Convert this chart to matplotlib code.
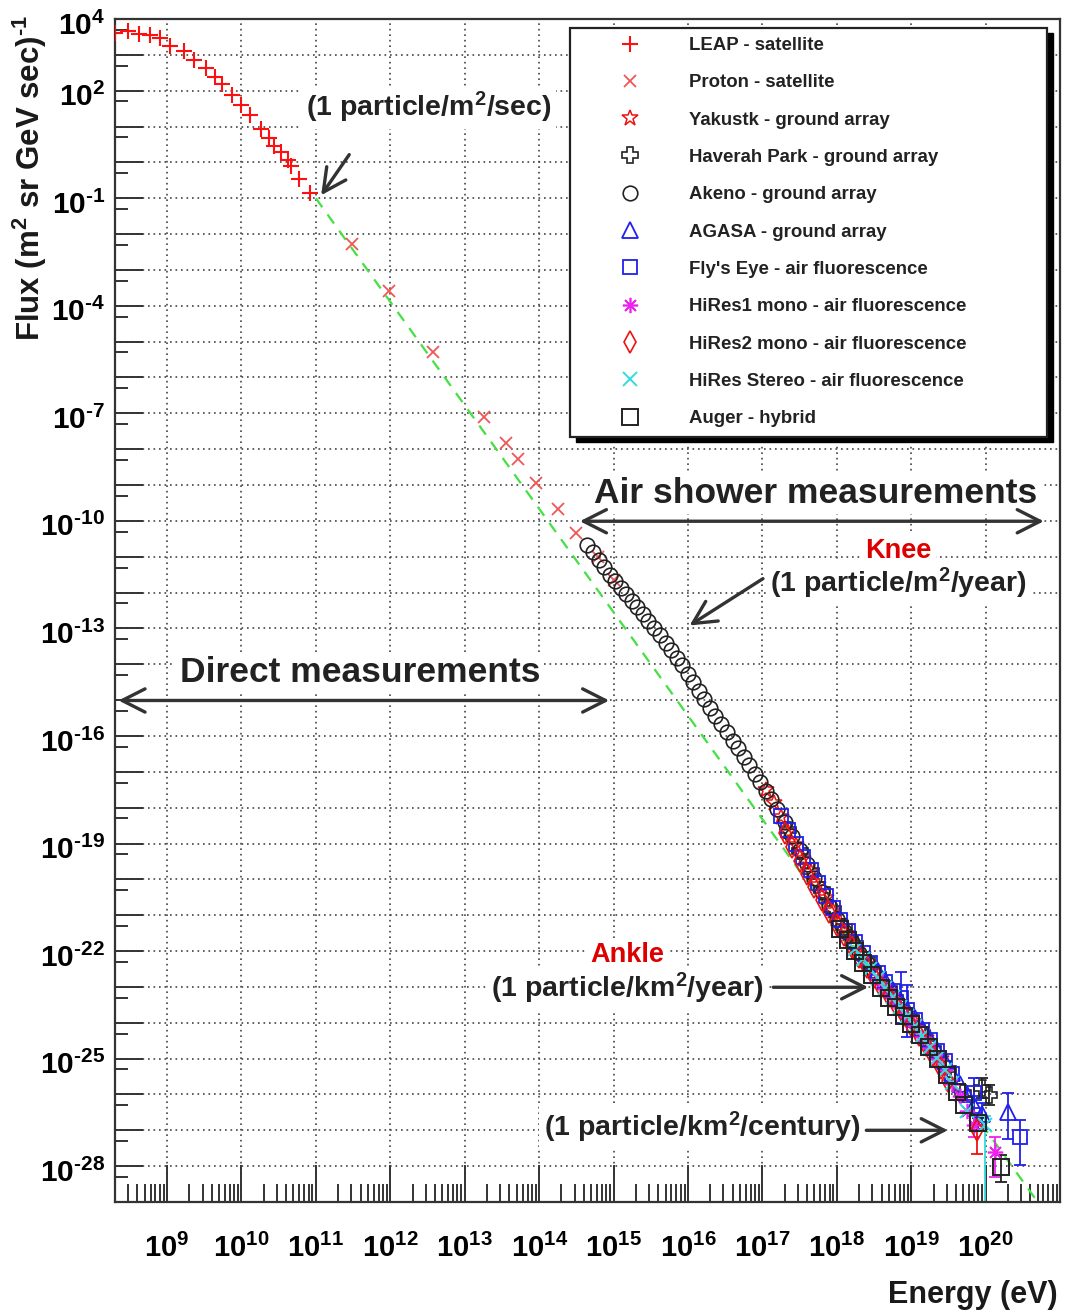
import numpy as np
import matplotlib
matplotlib.use('Agg')
import matplotlib.pyplot as plt
from matplotlib.patches import Rectangle
from matplotlib.transforms import ScaledTranslation
from matplotlib.ticker import FixedLocator, FuncFormatter, NullFormatter

plt.rcParams['font.family'] = ['Liberation Sans', 'DejaVu Sans']
plt.rcParams['font.weight'] = 'bold'
plt.rcParams['mathtext.fontset'] = 'custom'
plt.rcParams['mathtext.rm'] = 'Liberation Sans:bold'
plt.rcParams['mathtext.bf'] = 'Liberation Sans:bold'
plt.rcParams['mathtext.it'] = 'Liberation Sans:bold:italic'
plt.rcParams['mathtext.sf'] = 'Liberation Sans:bold'
plt.rcParams['mathtext.default'] = 'rm'

# ---------------- data (log10 E [eV], log10 flux) ----------------
leap_logE = [8.30, 8.47, 8.62, 8.77, 8.91, 9.04, 9.23, 9.36, 9.53, 9.64, 9.74,
             9.88, 9.99, 10.11, 10.26, 10.37, 10.44, 10.53, 10.63, 10.66, 10.77, 10.92]
leap_logF = [3.62, 3.66, 3.59, 3.54, 3.47, 3.26, 3.10, 2.86, 2.63, 2.38, 2.19,
             1.87, 1.59, 1.33, 0.94, 0.67, 0.47, 0.28, 0.08, -0.11, -0.46, -0.84]

proton_logE = [11.48, 11.98, 12.58, 13.26, 13.55, 13.71, 13.96, 14.26, 14.49, 14.79, 15.00]
proton_logF = [-2.28, -3.60, -5.30, -7.10, -7.82, -8.28, -8.95, -9.66, -10.33, -11.01, -11.65]

yak_logE = [17.05, 17.15, 17.25, 17.35, 17.45, 17.55, 17.65, 17.75, 17.85, 17.95, 18.05, 18.15,
            18.25, 18.35, 18.45, 18.55, 18.65, 18.75, 18.85, 18.95, 19.05, 19.20, 19.40]
yak_logF = [-17.50, -17.88, -18.27, -18.67, -19.04, -19.43, -19.80, -20.16, -20.52, -20.87, -21.19, -21.52,
            -21.82, -22.12, -22.40, -22.67, -22.95, -23.19, -23.46, -23.71, -23.99, -24.42, -25.02]

hp_logE = [17.35, 17.50, 17.65, 17.80, 17.95, 18.10, 18.25, 18.40, 18.55, 18.70, 18.85, 19.00,
           19.15, 19.30, 19.50, 19.70, 19.95, 20.05]
hp_logF = [-18.62, -19.20, -19.76, -20.30, -20.82, -21.32, -21.80, -22.24, -22.66, -23.06, -23.45, -23.86,
           -24.28, -24.73, -25.28, -25.95, -25.82, -26.02]
hp_eb_logE = [19.95, 20.05]
hp_eb_lo = [-26.10, -26.30]
hp_eb_hi = [-25.55, -25.75]

akeno_logE = [14.65, 14.72, 14.80, 14.87, 14.95, 15.02, 15.10, 15.17, 15.25, 15.32, 15.40, 15.47,
              15.55, 15.62, 15.70, 15.77, 15.85, 15.92, 16.00, 16.07, 16.15, 16.22, 16.30, 16.37,
              16.45, 16.52, 16.60, 16.67, 16.75, 16.82, 16.90, 16.97, 17.05, 17.12, 17.20, 17.30,
              17.40, 17.50, 17.60, 17.70, 17.80, 17.90, 18.00, 18.10, 18.20, 18.30, 18.40, 18.50]
akeno_logF = [-10.68, -10.88, -11.10, -11.29, -11.50, -11.68, -11.87, -12.04, -12.24, -12.41, -12.61, -12.79,
              -13.00, -13.19, -13.41, -13.60, -13.83, -14.03, -14.27, -14.49, -14.74, -14.96, -15.21, -15.43,
              -15.67, -15.89, -16.13, -16.34, -16.59, -16.81, -17.06, -17.29, -17.54, -17.77, -18.04, -18.41,
              -18.80, -19.19, -19.57, -19.96, -20.35, -20.74, -21.11, -21.44, -21.76, -22.05, -22.33, -22.60]

agasa_logE = [18.55, 18.65, 18.75, 18.85, 18.95, 19.05, 19.15, 19.25, 19.35, 19.45, 19.55, 19.65,
              19.75, 19.85, 19.95, 20.30]
agasa_logF = [-22.55, -22.82, -23.08, -23.34, -23.62, -23.88, -24.16, -24.44, -24.76, -25.06, -25.40, -25.72,
              -26.00, -26.30, -26.55, -26.49]
agasa_eb_logE = [19.85, 19.95, 20.30]
agasa_eb_lo = [-26.60, -26.95, -27.23]
agasa_eb_hi = [-26.05, -26.25, -25.97]

fe_logE = [17.25, 17.35, 17.45, 17.55, 17.65, 17.75, 17.85, 17.95, 18.05, 18.15, 18.25, 18.35, 18.45,
           18.55, 18.65, 18.75, 18.87, 18.94, 19.05, 19.15, 19.25, 19.35, 19.45, 19.55, 19.85, 20.46]
fe_logF = [-18.22, -18.62, -19.00, -19.38, -19.75, -20.10, -20.46, -20.80, -21.14, -21.45, -21.76, -22.05, -22.34,
           -22.60, -22.86, -23.12, -23.30, -23.65, -23.92, -24.20, -24.47, -24.80, -25.07, -25.42, -25.95, -27.18]
fe_eb_logE = [18.87, 18.94, 19.85, 20.46]
fe_eb_lo = [-24.02, -24.40, -26.39, -27.97]
fe_eb_hi = [-22.58, -22.95, -25.55, -26.71]

h1_logE = [18.55, 18.65, 18.75, 18.85, 18.95, 19.05, 19.15, 19.25, 19.35, 19.45, 19.55, 19.65,
           19.75, 19.85, 20.12]
h1_logF = [-22.78, -23.05, -23.30, -23.56, -23.83, -24.10, -24.40, -24.70, -25.00, -25.33, -25.70, -26.05,
           -26.45, -26.85, -27.61]
h1_eb_logE = [19.85, 20.12]
h1_eb_lo = [-27.20, -28.30]
h1_eb_hi = [-26.60, -27.20]

h2_logE = [17.30, 17.40, 17.50, 17.60, 17.70, 17.80, 17.90, 18.00, 18.10, 18.20, 18.30, 18.40,
           18.50, 18.60, 18.70, 18.80, 18.90, 19.00, 19.10, 19.20, 19.30, 19.40, 19.50, 19.88]
h2_logF = [-18.70, -19.10, -19.48, -19.85, -20.21, -20.58, -20.91, -21.26, -21.56, -21.88, -22.17, -22.45,
           -22.72, -23.00, -23.24, -23.51, -23.78, -24.05, -24.33, -24.62, -24.92, -25.27, -25.62, -27.00]
h2_eb_logE = [19.88]
h2_eb_lo = [-27.65]
h2_eb_hi = [-26.85]

hs_logE = [18.25, 18.35, 18.45, 18.55, 18.65, 18.75, 18.85, 18.95, 19.05, 19.15, 19.25, 19.35,
           19.45, 19.55, 19.75, 19.99]
hs_logF = [-21.93, -22.22, -22.50, -22.76, -23.03, -23.29, -23.55, -23.82, -24.09, -24.37, -24.67, -24.99,
           -25.32, -25.68, -26.45, -26.85]
hs_eb_logE = [19.99]
hs_eb_lo = [-40.0]
hs_eb_hi = [-26.60]

auger_logE = [18.05, 18.15, 18.25, 18.35, 18.47, 18.60, 18.70, 18.80, 18.90, 19.00, 19.12, 19.24,
              19.36, 19.48, 19.61, 19.71, 19.90, 20.21]
auger_logF = [-21.38, -21.70, -22.00, -22.32, -22.67, -23.04, -23.30, -23.55, -23.80, -24.04, -24.34, -24.68,
              -25.00, -25.45, -25.93, -26.30, -26.81, -28.02]
auger_eb_logE = [19.90, 20.21]
auger_eb_lo = [-27.00, -28.44]
auger_eb_hi = [-26.65, -27.69]

ref_logE = [11.0, 20.7]
ref_logF = [-1.0, -29.0]

labels = ['LEAP - satellite', 'Proton - satellite', 'Yakustk - ground array',
          'Haverah Park - ground array', 'Akeno - ground array', 'AGASA - ground array',
          "Fly's Eye - air fluorescence", 'HiRes1 mono - air fluorescence',
          'HiRes2 mono - air fluorescence', 'HiRes Stereo - air fluorescence', 'Auger - hybrid']

x_ticks_exp = list(range(9, 22))
y_ticks_exp = list(range(-29, 5))

# ---------------- figure ----------------
W, H = 1066, 1312
fig = plt.figure(figsize=(W / 100, H / 100), dpi=100)
ax = fig.add_axes([115 / W, 1 - 1202 / H, 945 / W, 1183 / H])
ax.set_xscale('log')
ax.set_yscale('log')
ax.set_xlim(2e8, 1e21)
ax.set_ylim(1e-29, 1e4)

def p(a):
    return 10.0 ** np.asarray(a, dtype=float)

# reference power-law line
ax.plot(p(ref_logE), p(ref_logF), color='#44e044', lw=1.6, ls=(0, (5, 4)), zorder=2)

def errs(E, lo, hi, color):
    ax.vlines(p(E), p(lo), p(hi), color=color, lw=1.3, zorder=2.5)
    ax.plot(p(E), p(lo), ls='none', marker='_', ms=8, mew=1.3, color=color, zorder=2.5)
    ax.plot(p(E), p(hi), ls='none', marker='_', ms=8, mew=1.3, color=color, zorder=2.5)

h = []
h.append(ax.plot(p(leap_logE), p(leap_logF), ls='none', marker='+', ms=11, mew=1.5, color='#ff1010', zorder=3)[0])
h.append(ax.plot(p(proton_logE), p(proton_logF), ls='none', marker='x', ms=9, mew=1.3, color='#f25555', zorder=3)[0])
h.append(ax.plot(p(yak_logE), p(yak_logF), ls='none', marker='*', ms=12, mew=1.1, fillstyle='none', color='#ee1111', zorder=3)[0])
errs(hp_eb_logE, hp_eb_lo, hp_eb_hi, '#222222')
h.append(ax.plot(p(hp_logE), p(hp_logF), ls='none', marker='P', ms=12, mew=1.2, fillstyle='none', color='#222222', zorder=3)[0])
h.append(ax.plot(p(akeno_logE), p(akeno_logF), ls='none', marker='o', ms=10.5, mew=1.2, fillstyle='none', color='#222222', zorder=3)[0])
errs(agasa_eb_logE, agasa_eb_lo, agasa_eb_hi, '#2020ee')
h.append(ax.plot(p(agasa_logE), p(agasa_logF), ls='none', marker='^', ms=11, mew=1.3, fillstyle='none', color='#2020ee', zorder=3)[0])
errs(fe_eb_logE, fe_eb_lo, fe_eb_hi, '#2020ee')
h.append(ax.plot(p(fe_logE), p(fe_logF), ls='none', marker='s', ms=10.5, mew=1.3, fillstyle='none', color='#2020ee', zorder=3)[0])
errs(h1_eb_logE, h1_eb_lo, h1_eb_hi, '#ee22ee')
h.append(ax.plot(p(h1_logE), p(h1_logF), ls='none', marker=(8, 2, 0), ms=11, mew=1.2, color='#ee22ee', zorder=3)[0])
errs(h2_eb_logE, h2_eb_lo, h2_eb_hi, '#ee1111')
h.append(ax.plot(p(h2_logE), p(h2_logF), ls='none', marker='d', ms=11, mew=1.2, fillstyle='none', color='#ee1111', zorder=3)[0])
errs(hs_eb_logE, hs_eb_lo, hs_eb_hi, '#33dddd')
h.append(ax.plot(p(hs_logE), p(hs_logF), ls='none', marker='x', ms=10, mew=1.4, color='#33dddd', zorder=3)[0])
errs(auger_eb_logE, auger_eb_lo, auger_eb_hi, '#222222')
h.append(ax.plot(p(auger_logE), p(auger_logF), ls='none', marker='s', ms=11, mew=1.4, fillstyle='none', color='#222222', zorder=3.2)[0])

# ---------------- axes styling ----------------
ax.xaxis.set_major_locator(FixedLocator([10.0 ** e for e in x_ticks_exp]))
ax.xaxis.set_minor_locator(FixedLocator([m * 10.0 ** e for e in range(8, 21) for m in range(2, 10)]))
ax.yaxis.set_major_locator(FixedLocator([10.0 ** e for e in y_ticks_exp]))
ax.yaxis.set_minor_locator(FixedLocator([5 * 10.0 ** e for e in range(-29, 4)]))

def sup(e):
    return (r'\text{-}%d' % (-e)) if e < 0 else ('%d' % e)

def xfmt(v, pos):
    e = int(round(np.log10(v)))
    return r'$\mathrm{10^{%s}}$' % sup(e) if 9 <= e <= 20 else ''

def yfmt(v, pos):
    e = int(round(np.log10(v)))
    return r'$\mathrm{10^{%s}}$' % sup(e) if (e == 4 or e % 3 == 2) else ''

ax.xaxis.set_major_formatter(FuncFormatter(xfmt))
ax.yaxis.set_major_formatter(FuncFormatter(yfmt))
ax.xaxis.set_minor_formatter(NullFormatter())
ax.yaxis.set_minor_formatter(NullFormatter())

ax.tick_params(axis='x', which='major', direction='in', length=27, width=1.4, pad=23,
               labelsize=21, top=False, color='#333333')
ax.tick_params(axis='x', which='minor', direction='in', length=13, width=1.4, top=False, color='#333333')
ax.tick_params(axis='y', which='major', direction='in', length=20, width=1.4, pad=7,
               labelsize=21.5, right=False, color='#333333')
ax.tick_params(axis='y', which='minor', direction='in', length=9.5, width=1.4, right=False, color='#333333')

# nudge y tick labels slightly below their grid line, as in the original
yoff = ScaledTranslation(0, -4 / 100, fig.dpi_scale_trans)
for t in ax.yaxis.get_major_ticks():
    t.label1.set_transform(t.label1.get_transform() + yoff)

ax.grid(True, which='major', ls=(0, (1, 2.3)), color='#444444', lw=1.2)
for s in ax.spines.values():
    s.set_linewidth(1.6)
    s.set_color('#333333')

ax.set_ylabel(r'Flux (m$^{2}$ sr GeV sec)$^{\text{-}1}$', fontsize=22.5, fontweight='bold',
              color='#1a1a1a', va='center')
ax.yaxis.set_label_coords(-0.0899, 0.866)
ax.set_xlabel('Energy (eV)', fontsize=22, fontweight='bold', color='#1a1a1a')
ax.xaxis.set_label_coords(0.998, -0.0786)
ax.xaxis.label.set_ha('right')
ax.xaxis.label.set_va('center')

# ---------------- annotations ----------------
tc = '#222222'
wb = dict(facecolor='white', edgecolor='none', pad=3)
arr = dict(arrowstyle='->,head_length=0.75,head_width=0.38', lw=2.4, color='#333333', mutation_scale=22)
darr = dict(arrowstyle='<->,head_length=0.75,head_width=0.38', lw=2.4, color='#333333', mutation_scale=22)

ax.text(p(12.52), p(1.53), r'(1 particle/m$^{2}$/sec)', fontsize=20.5, ha='center', va='center', color=tc, bbox=wb, zorder=6)
ax.annotate('', xy=(p(11.05), p(-0.98)), xytext=(p(11.47), p(0.28)), arrowprops=arr, zorder=6)

ax.text(p(17.72), p(-9.23), 'Air shower measurements', fontsize=25.5, ha='center', va='center', color=tc, bbox=wb, zorder=6)
ax.annotate('', xy=(p(20.82), p(-10.01)), xytext=(p(14.51), p(-10.01)), arrowprops=darr, zorder=6)

ax.text(p(11.59), p(-14.23), 'Direct measurements', fontsize=25.5, ha='center', va='center', color=tc, bbox=wb, zorder=6)
ax.annotate('', xy=(p(14.98), p(-15.01)), xytext=(p(8.31), p(-15.01)), arrowprops=darr, zorder=6)

ax.text(p(18.83), p(-10.85), 'Knee', fontsize=19.5, ha='center', va='center', color='#dd0000', bbox=wb, zorder=6)
ax.text(p(18.83), p(-11.74), r'(1 particle/m$^{2}$/year)', fontsize=20.5, ha='center', va='center', color=tc, bbox=wb, zorder=6)
ax.annotate('', xy=(p(15.99), p(-12.96)), xytext=(p(17.04), p(-11.57)), arrowprops=arr, zorder=6)

ax.text(p(15.19), p(-22.12), 'Ankle', fontsize=19.5, ha='center', va='center', color='#dd0000', bbox=wb, zorder=6)
ax.text(p(15.19), p(-23.04), r'(1 particle/km$^{2}$/year)', fontsize=20.5, ha='center', va='center', color=tc, bbox=wb, zorder=6)
ax.annotate('', xy=(p(18.46), p(-23.01)), xytext=(p(17.11), p(-23.01)), arrowprops=arr, zorder=6)

ax.text(p(16.19), p(-26.92), r'(1 particle/km$^{2}$/century)', fontsize=20.5, ha='center', va='center', color=tc, bbox=wb, zorder=6)
ax.annotate('', xy=(p(19.53), p(-27.0)), xytext=(p(18.36), p(-27.0)), arrowprops=arr, zorder=6)

# ---------------- legend ----------------
lx0, ly0, lx1, ly1 = 570, 28, 1047, 437
fig.add_artist(Rectangle(((lx0 + 6) / W, 1 - (ly1 + 5) / H), (lx1 - lx0) / W, (ly1 - ly0) / H,
                         transform=fig.transFigure, facecolor='black', edgecolor='black', lw=1, zorder=3))
fig.add_artist(Rectangle((lx0 / W, 1 - ly1 / H), (lx1 - lx0) / W, (ly1 - ly0) / H,
                         transform=fig.transFigure, facecolor='white', edgecolor='#222222', lw=1.6, zorder=4))
fig.legend(h, labels, loc='upper left', bbox_to_anchor=(611 / W, 1 - 37 / H), bbox_transform=fig.transFigure,
           frameon=False, borderpad=0, borderaxespad=0, handlelength=2.0, handletextpad=2.2,
           labelspacing=1.09, prop={'weight': 'bold', 'size': 13.4}, labelcolor='#222222')

fig.savefig('out.png', dpi=100, facecolor='white')
